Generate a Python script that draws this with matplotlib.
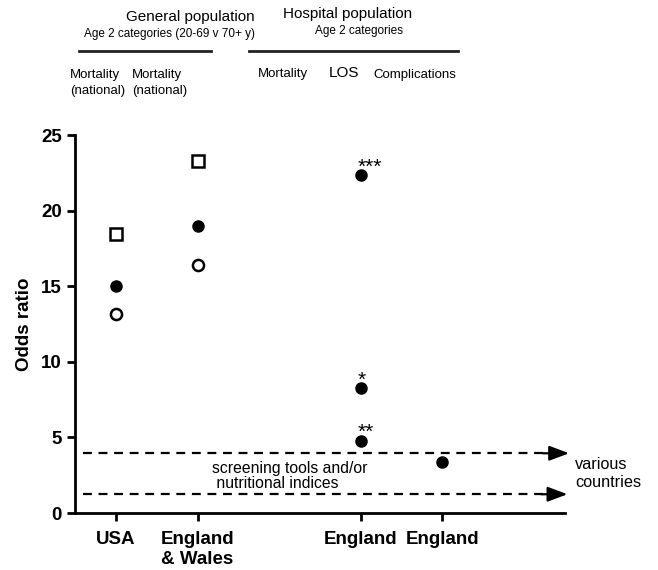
import matplotlib
matplotlib.use("Agg")
import matplotlib.pyplot as plt

plt.rcParams['font.family'] = ['Liberation Sans', 'DejaVu Sans']

categories = ["USA", "England\n& Wales", "England", "England"]
cat_pos = [1, 2, 4, 5]
square_vals = [18.45, 23.28]       # open squares (general population)
filled_gen = [15.03, 18.96]        # filled circles (general population)
open_gen = [13.18, 16.4]           # open circles (general population)
hosp_mort = [22.35, 8.25, 4.78]    # filled circles, England mortality
hosp_mort_labels = ["***", "*", "**"]
hosp_los = [3.4]                   # filled circle, England LOS
band = [3.95, 1.24]                # dashed arrow lines
yticks = [0, 5, 10, 15, 20, 25]

W, H = 658, 570
fig = plt.figure(figsize=(W/100, H/100), dpi=100)
ax = fig.add_axes([75/W, (H-513)/H, 490/W, 378/H])

ax.plot(cat_pos[:2], square_vals, linestyle='none', marker='s', ms=8.5,
        mfc='white', mec='black', mew=1.8)
ax.plot(cat_pos[:2], filled_gen, linestyle='none', marker='o', ms=8,
        mfc='black', mec='black')
ax.plot(cat_pos[:2], open_gen, linestyle='none', marker='o', ms=8,
        mfc='white', mec='black', mew=1.8)
ax.plot([cat_pos[2]]*len(hosp_mort), hosp_mort, linestyle='none', marker='o', ms=8,
        mfc='black', mec='black')
ax.plot([cat_pos[3]]*len(hosp_los), hosp_los, linestyle='none', marker='o', ms=8,
        mfc='black', mec='black')
for v, lab in zip(hosp_mort, hosp_mort_labels):
    ax.annotate(lab, (cat_pos[2], v), xytext=(-2, -1), textcoords='offset points',
                fontsize=15, ha='left', va='bottom')

for yv, xend in zip(band, [6.55, 6.53]):
    ax.plot([0.6, xend - 0.3], [yv, yv], linestyle=(0, (4, 3)), color='black', lw=1.6,
            clip_on=False)
    ax.annotate('', xy=(xend, yv), xytext=(xend - 0.32, yv),
                arrowprops=dict(arrowstyle='-|>,head_length=1.2,head_width=0.45',
                                color='black', lw=1.6, shrinkA=0, shrinkB=0),
                annotation_clip=False)

ax.text(2.18, 2.45, "screening tools and/or\n nutritional indices", ha='left',
        va='center', fontsize=11.3, linespacing=1.05)
ax.text(6.62, 2.6, "various\ncountries", ha='left', va='center', fontsize=11.7,
        linespacing=1.3, clip_on=False)

ax.set_xlim(0.5, 6.5)
ax.set_ylim(0, 25)
ax.set_xticks(cat_pos)
ax.set_xticklabels(categories, fontsize=13.5, fontweight='bold', linespacing=1.25)
ax.set_yticks(yticks)
ax.set_yticklabels([str(t) for t in yticks], fontsize=13.5, fontweight='bold')
ax.set_ylabel("Odds ratio", fontsize=13.5, fontweight='bold', labelpad=6)
for s in ['top', 'right']:
    ax.spines[s].set_visible(False)
for s in ['left', 'bottom']:
    ax.spines[s].set_linewidth(2)
ax.tick_params(axis='both', width=2, length=6, direction='out')
ax.tick_params(axis='x', pad=7)

# header annotations (figure pixel coordinates)
def ftext(x, y, s, **kw):
    fig.text(x/W, 1 - y/H, s, **kw)

ftext(190, 17, "General population", ha='center', va='center', fontsize=11)
ftext(170, 34, "Age 2 categories (20-69 v 70+ y)", ha='center', va='center', fontsize=8.5)
ftext(348, 14, "Hospital population", ha='center', va='center', fontsize=11)
ftext(359, 31, "Age 2 categories", ha='center', va='center', fontsize=8.5)
fig.add_artist(plt.Line2D([79/W, 211/W], [1-51/H, 1-51/H], color='#222222', lw=2))
fig.add_artist(plt.Line2D([249/W, 458/W], [1-51/H, 1-51/H], color='#222222', lw=2))
ftext(70, 83, "Mortality\n(national)", ha='left', va='center', fontsize=9.5, linespacing=1.35)
ftext(132, 83, "Mortality\n(national)", ha='left', va='center', fontsize=9.5, linespacing=1.35)
ftext(258, 74, "Mortality", ha='left', va='center', fontsize=9.5)
ftext(329, 73, "LOS", ha='left', va='center', fontsize=11)
ftext(373, 75, "Complications", ha='left', va='center', fontsize=9.5)

fig.savefig("out.png", dpi=100)
